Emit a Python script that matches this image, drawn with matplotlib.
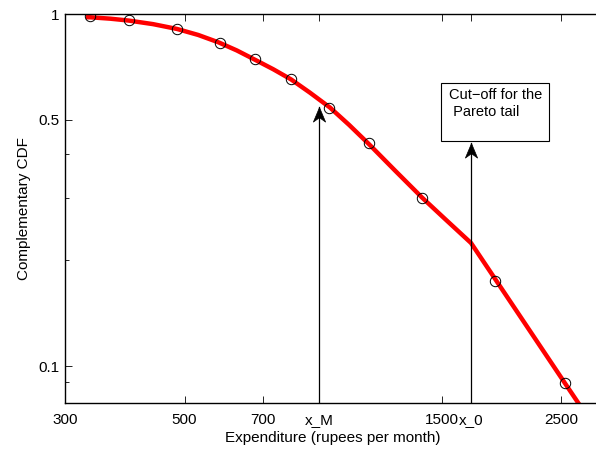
import matplotlib
matplotlib.use('Agg')
import matplotlib.pyplot as plt
from matplotlib.patches import Rectangle
from matplotlib.path import Path
from matplotlib.ticker import FixedLocator, NullFormatter

plt.rcParams['font.family'] = ['Liberation Sans', 'DejaVu Sans']

# empirical complementary CDF (circles)
x_obs = [334, 394, 485, 581, 675, 789, 928, 1097, 1379, 1883, 2540]
y_obs = [0.989, 0.962, 0.907, 0.827, 0.743, 0.652, 0.542, 0.430, 0.300, 0.174, 0.0893]

# fitted curve: lognormal body + Pareto tail above x_0 (red)
x_fit = [331, 334, 364, 394, 437, 484, 530, 579, 625, 676, 730, 788, 854,
         931, 1010, 1099, 1229, 1379, 1528, 1700, 2540, 2949]
y_fit = [0.979, 0.979, 0.970, 0.958, 0.936, 0.907, 0.872, 0.830, 0.788,
         0.741, 0.697, 0.652, 0.598, 0.542, 0.484, 0.427, 0.359, 0.301,
         0.260, 0.2236, 0.0893, 0.0636]

x_M = 888
x_0 = 1700
y_tip_M = 0.546
y_tip_0 = 0.430

xticks = [300, 500, 700, x_M, 1500, x_0, 2500]
xticklabels = ['300', '500', '700', 'x_M', '1500', 'x_0', '2500']
yticks = [0.1, 0.5, 1]
yticklabels = ['0.1', '0.5', '1']
yminor = [0.09, 0.2, 0.3, 0.4]

fig = plt.figure(figsize=(5.96, 4.51), dpi=100)
ax = fig.add_axes([0.1091, 0.1064, 0.8977, 0.8625])

ax.plot(x_fit, y_fit, color='red', lw=3.2, solid_joinstyle='round', zorder=2)
ax.plot(x_obs, y_obs, 'o', mfc='none', mec='black', ms=7.5, mew=0.7, zorder=3)

ax.set_xscale('log')
ax.set_yscale('log')
ax.set_xlim(300, 2950)
ax.set_ylim(0.0785, 1.0)

ax.xaxis.set_major_locator(FixedLocator(xticks))
ax.set_xticklabels(xticklabels)
ax.xaxis.set_minor_locator(FixedLocator([]))
ax.yaxis.set_major_locator(FixedLocator(yticks))
ax.set_yticklabels(yticklabels)
ax.yaxis.set_minor_locator(FixedLocator(yminor))
ax.yaxis.set_minor_formatter(NullFormatter())

ax.tick_params(which='both', direction='in', top=True, right=False, width=0.6)
ax.tick_params(which='major', length=5, labelsize=11)
ax.tick_params(axis='x', which='major', pad=7)
ax.tick_params(axis='y', which='major', pad=4)
ax.tick_params(which='minor', length=3)
for s in ax.spines.values():
    s.set_linewidth(1.0)

ax.set_xlabel('Expenditure (rupees per month)', fontsize=11, labelpad=3)
ax.set_ylabel('Complementary CDF', fontsize=11, labelpad=5)

# vertical arrows with notched (MATLAB style) heads
head = Path([(0, 0), (-0.42, -1), (0, -0.7), (0.42, -1), (0, 0)],
            [Path.MOVETO, Path.LINETO, Path.LINETO, Path.LINETO, Path.CLOSEPOLY])
ybot = ax.get_ylim()[0]
for xa, ya in [(x_M, y_tip_M), (x_0, y_tip_0)]:
    ax.plot([xa, xa], [ybot, ya], color='black', lw=0.9, zorder=4)
    ax.plot([xa], [ya], marker=head, ms=21, color='black', mec='black',
            mew=0.5, zorder=4)

ax.add_patch(Rectangle((0.7028, 0.6735), 0.2019, 0.1491, transform=ax.transAxes,
                       fill=False, ec='black', lw=0.8))
ax.text(0.7178, 0.8100, 'Cut\u2212off for the\n Pareto tail', transform=ax.transAxes,
        ha='left', va='top', fontsize=10.5, linespacing=1.25)

fig.savefig('out.png', dpi=100)
